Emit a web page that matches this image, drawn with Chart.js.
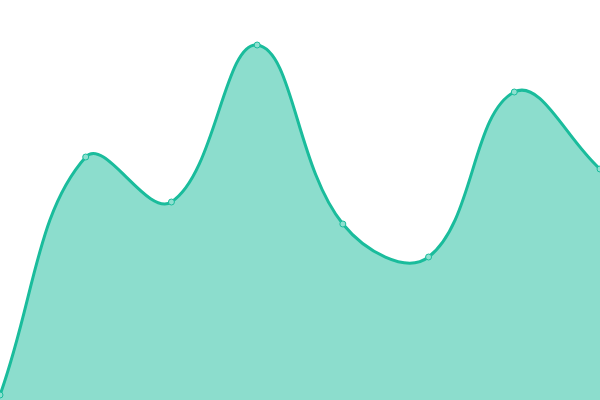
<!DOCTYPE html>
<html>
<head>
<meta charset="utf-8">
<script src="https://cdn.jsdelivr.net/npm/chart.js@4/dist/chart.umd.min.js"></script>
<style>
  html, body { margin: 0; padding: 0; background: #fff; }
  #wrap { width: 600px; height: 400px; }
</style>
</head>
<body>
<div id="wrap"><canvas id="AreaChart" width="600" height="400"></canvas></div>
<script>
var labels = ["1", "2", "3", "4", "5", "6", "7", "8"];
var values = [5, 243, 198, 355, 176, 143, 308, 231];

var ctx = document.getElementById("AreaChart");
var areaChart = new Chart(ctx, {
    type: 'line',
    data: {
        labels: labels,
        datasets: [{
            data: values,
            fill: 'start',
            backgroundColor: "rgba(26, 188, 156, 0.5)",
            borderColor: "#1abc9c",
            borderWidth: 3,
            tension: 0.4,
            pointRadius: 3,
            pointBorderWidth: 1,
            pointBackgroundColor: "#8ee0d0",
            pointBorderColor: "#1abc9c"
        }]
    },
    options: {
        responsive: false,
        animation: false,
        layout: { padding: 0, autoPadding: false },
        plugins: {
            legend: { display: false },
            tooltip: { enabled: false }
        },
        scales: {
            x: { display: false, offset: false },
            y: { display: false, min: 0, max: 400 }
        }
    }
});
</script>
</body>
</html>
